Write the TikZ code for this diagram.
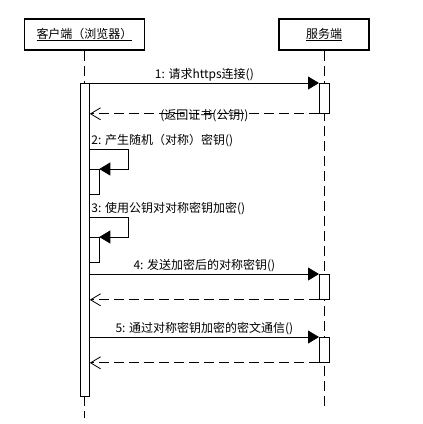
\documentclass[tikz,border=0pt]{standalone}
\usepackage{fontspec}
\setmainfont{Noto Sans CJK SC}
\usepackage{tikz}
\usetikzlibrary{positioning,arrows.meta,calc}

\begin{document}
\begin{tikzpicture}[
    x=1pt, y=-1pt,
    font=\fontsize{12}{14}\selectfont,
    party/.style={draw, line width=1.6pt, minimum width=120pt, minimum height=31pt,
                  inner sep=0pt},
    life/.style={line width=0.8pt, dash pattern=on 10pt off 5pt},
    act/.style={draw, fill=white, line width=0.8pt, minimum width=9.5pt,
                inner sep=0pt, anchor=north west},
    msg/.style={-{Triangle[length=11pt, width=13pt]}, line width=0.8pt},
    ret/.style={-{Straight Barb[length=10pt, width=12pt, line width=0.8pt]},
                line width=0.8pt, dash pattern=on 10pt off 5pt},
    lbl/.style={inner sep=1.5pt},
]
\useasboundingbox[fill=white] (0,0) rectangle (423,424);
% ---------------- participants and lifelines ----------------
\node[party] (client) at (84.5,34.5) {\underline{客户端（浏览器）}};
\node[party, minimum width=90pt] (server) at (324,34.5) {\underline{服务端}};
\coordinate (cend) at (84.5,418);
\coordinate (send) at (324,406);
\draw[life] (client.south) -- (cend);
\draw[life] (server.south) -- (send);

% ---------------- activation bars ----------------
\node[act, minimum height=313pt] (cact) at (79.5,83) {};
\node[act, minimum height=30pt] (s1) at (319,83) {};
\node[act, minimum height=25pt] (s4) at (319,274) {};
\node[act, minimum height=25pt] (s5) at (319,337) {};
\node[act, minimum height=25pt] (n2) at (89,169) {};
\node[act, minimum height=25pt] (n3) at (89,237) {};

% ---------------- 1: request and certificate ----------------
\draw[msg] (cact.east |- s1.north) -- node[lbl, above] {1: 请求https连接()} (s1.north west);
\draw[ret] (s1.south west) -- node[lbl, yshift=-2pt] {(返回证书(公钥))} (cact.east |- s1.south);

% ---------------- 2, 3: self calls ----------------
\coordinate (loop2) at (128,149);
\node[lbl, anchor=south west] at (cact.east |- loop2) {2: 产生随机（对称）密钥()};
\draw[msg] (cact.east |- loop2) -- (loop2) |- (n2.north east);
\coordinate (loop3) at (128,217);
\node[lbl, anchor=south west] at (cact.east |- loop3) {3: 使用公钥对对称密钥加密()};
\draw[msg] (cact.east |- loop3) -- (loop3) |- (n3.north east);

% ---------------- 4, 5: send key and communicate ----------------
\draw[msg] (cact.east |- s4.north) -- node[lbl, above] {4: 发送加密后的对称密钥()} (s4.north west);
\draw[ret] (s4.south west) -- (cact.east |- s4.south);
\draw[msg] (cact.east |- s5.north) -- node[lbl, above] {5: 通过对称密钥加密的密文通信()} (s5.north west);
\draw[ret] (s5.south west) -- (cact.east |- s5.south);
\end{tikzpicture}
\end{document}
